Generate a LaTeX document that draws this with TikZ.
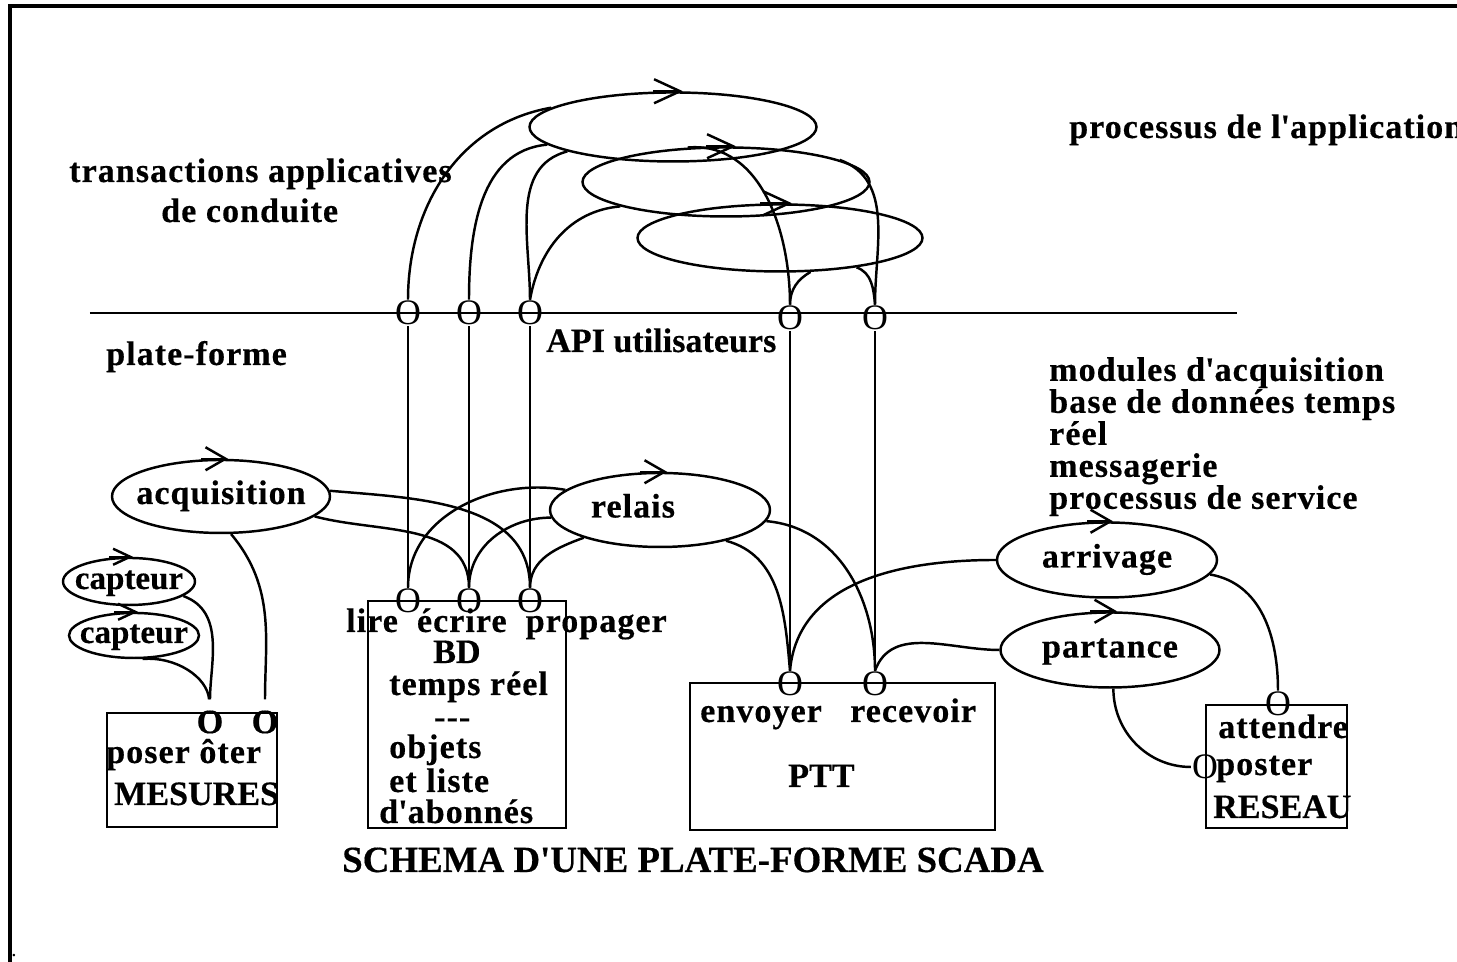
\documentclass[tikz,border=0pt]{standalone}
\usepackage{fontspec}
\setmainfont{Liberation Serif}
\newfontfamily\spacedfont{Liberation Serif Bold}[LetterSpace=3, FakeBold=0.4]
\newfontfamily\plainfont{Liberation Serif Bold}[FakeBold=0.4]
\usetikzlibrary{shapes.geometric,arrows.meta}
\setlength{\lineskiplimit}{-3pt}

\begin{document}
\begin{tikzpicture}[
  line width=0.7pt,
  lbl/.style={font=\spacedfont\fontsize{9.7}{9.1}\selectfont, inner sep=0pt},
  caplbl/.style={font=\plainfont\fontsize{9.7}{9.1}\selectfont, inner sep=0pt},
  proc/.style={ellipse, draw, inner sep=0pt, text height=0.22cm, text depth=0.07cm,
    font=\spacedfont\fontsize{9.7}{9.1}\selectfont},
  sensor/.style={proc, font=\plainfont\fontsize{9.4}{9.4}\selectfont},
  box/.style={draw, rectangle, line width=0.8pt, inner sep=0pt},
  port/.style={font=\fontsize{10.2}{10.2}\selectfont, inner sep=0pt},
  bigturn/.style={-{Straight Barb[length=2.6mm,width=2.4mm]}},
  turn/.style={-{Straight Barb[length=2mm,width=2.3mm]}},
  smallturn/.style={-{Straight Barb[length=1.7mm,width=1.6mm]}}
]
\useasboundingbox (0,0) rectangle (14.57,9.62);
% cadre
\draw[line width=0.95pt] (0.10,0) -- (0.10,9.56) -- (14.57,9.56);
\node[font=\fontsize{6}{6}\selectfont, inner sep=0pt] (pt) at (0.14,0.06) {.};

% limite plate-forme / application
\draw (0.90,6.49) -- (12.37,6.49);
\node[port] (a1) at (4.08,6.49) {O};
\node[port] (a2) at (4.69,6.49) {O};
\node[port] (a3) at (5.30,6.49) {O};
\node[port] (a4) at (7.90,6.44) {O};
\node[port] (a5) at (8.75,6.44) {O};

% processus de l'application
\node[proc, minimum width=2.87cm, minimum height=0.69cm] (e1) at (6.73,8.35) {};
\node[proc, minimum width=2.87cm, minimum height=0.69cm] (e2) at (7.26,7.80) {};
\node[proc, minimum width=2.85cm, minimum height=0.67cm] (e3) at (7.80,7.24) {};
\draw[bigturn] ([xshift=-2mm]e1.north) -- ([xshift=1mm]e1.north);
\draw[bigturn] ([xshift=-2mm]e2.north) -- ([xshift=1mm]e2.north);
\draw[bigturn] ([xshift=-2mm]e3.north) -- ([xshift=1.2mm]e3.north);

% textes
\node[lbl, anchor=base west] (trans) at (0.68,7.80) {transactions applicatives};
\node[lbl, anchor=base west] (cond) at (1.60,7.40) {de conduite};
\node[lbl, anchor=base west] (appl) at (10.68,8.24) {processus de l\textquotesingle application};
\node[lbl, anchor=base west] (plat) at (1.05,5.97) {plate-forme};
\node[caplbl, anchor=base west] (api) at (5.45,6.10) {API utilisateurs};
\node[lbl, anchor=north west, align=left] (serv) at (10.48,6.06)
  {modules d\textquotesingle acquisition\\base de données temps\\réel\\messagerie\\processus de service};
\node[font=\plainfont\fontsize{10.5}{12}\selectfont, inner sep=0pt, anchor=base] (titre)
  at (6.93,0.90) {SCHEMA D\textquotesingle UNE PLATE-FORME SCADA};

% processus de service
\node[proc, minimum width=2.18cm, minimum height=0.73cm] (acq) at (2.21,4.655) {\makebox[0pt]{acquisition}};
\node[sensor, minimum width=1.32cm, minimum height=0.47cm] (cap1) at (1.29,3.805) {\makebox[0pt]{capteur}};
\node[sensor, minimum width=1.30cm, minimum height=0.45cm] (cap2) at (1.34,3.265) {\makebox[0pt]{capteur}};
\node[proc, minimum width=2.20cm, minimum height=0.74cm] (relais) at (6.60,4.52) {\makebox[0pt]{\hspace*{-0.54cm}relais}};
\node[proc, minimum width=2.20cm, minimum height=0.75cm] (arriv) at (11.07,4.02) {\makebox[0pt]{arrivage}};
\node[proc, minimum width=2.19cm, minimum height=0.75cm] (part) at (11.10,3.12) {\makebox[0pt]{partance}};
\draw[turn] ([xshift=-2mm]acq.north) -- ([xshift=0.7mm]acq.north);
\draw[smallturn] ([xshift=-2mm]cap1.north) -- ([xshift=0.4mm]cap1.north);
\draw[smallturn] ([xshift=-2mm]cap2.north) -- ([xshift=0.4mm]cap2.north);
\draw[turn] ([xshift=-2mm]relais.north) -- ([xshift=0.7mm]relais.north);
\draw[turn] ([xshift=-2mm]arriv.north) -- ([xshift=0.6mm]arriv.north);
\draw[turn] ([xshift=-2mm]part.north) -- ([xshift=0.7mm]part.north);

% modules
\node[box, minimum width=1.70cm, minimum height=1.14cm] (mes) at (1.92,1.92) {};
\node[box, minimum width=1.98cm, minimum height=2.27cm] (bd) at (4.67,2.475) {};
\node[box, minimum width=3.05cm, minimum height=1.47cm] (ptt) at (8.425,2.055) {};
\node[box, minimum width=1.41cm, minimum height=1.23cm] (res) at (12.765,1.955) {};

\node[caplbl] (m1) at (2.10,2.40) {O};
\node[caplbl] (m2) at (2.65,2.40) {O};
\node[lbl, anchor=base west] (mes1) at (1.05,1.99) {poser ôter};
\node[caplbl, anchor=base west] (mes2) at (1.13,1.57) {MESURES};

\node[port] (b1) at (4.08,3.61) {O};
\node[port] (b2) at (4.69,3.61) {O};
\node[port] (b3) at (5.30,3.61) {O};
\node[lbl, anchor=base west] (bd1) at (3.45,3.30) {lire~~écrire~~propager};
\node[caplbl, anchor=base west] (bd2) at (4.32,2.99) {BD};
\node[lbl, anchor=base west] (bd3) at (3.88,2.67) {temps réel};
\node[lbl, anchor=base west] (bd4) at (4.33,2.34) {-{}-{}-};
\node[lbl, anchor=base west] (bd5) at (3.88,2.04) {objets};
\node[lbl, anchor=base west] (bd6) at (3.88,1.70) {et liste};
\node[lbl, anchor=base west] (bd7) at (3.78,1.39) {d\textquotesingle abonnés};

\node[port] (p1) at (7.90,2.78) {O};
\node[port] (p2) at (8.75,2.78) {O};
\node[lbl, anchor=base west] (ptt1) at (6.99,2.40) {envoyer};
\node[lbl, anchor=base west] (ptt2) at (8.49,2.40) {recevoir};
\node[caplbl, anchor=base west] (ptt3) at (7.87,1.75) {PTT};

\node[port] (r1) at (12.78,2.58) {O};
\node[port] (r2) at (12.05,1.95) {O};
\node[lbl, anchor=base west] (res1) at (12.17,2.24) {attendre};
\node[lbl, anchor=base west] (res2) at (12.15,1.87) {poster};
\node[caplbl, anchor=base west] (res3) at (12.12,1.44) {RESEAU};

% API utilisateurs
\draw (a1.north) to[out=90, in=190] (e1.171);
\draw (a2.north) to[out=90, in=185] (e1.188);
\draw (a3.north) to[out=90, in=195] (e1.193);
\draw (a3.north) to[out=80, in=185] (e2.193);
\draw (e2.138) to[out=5, in=90] (a4.north);
\draw (a4.north) to[out=90, in=210] (e3.312);
\draw (e2.11) to[out=-20, in=90] (a5.north);
\draw (a5.north) to[out=95, in=-20] (e3.339);
\draw (a1.south) -- (b1.north);
\draw (a2.south) -- (b2.north);
\draw (a3.south) -- (b3.north);
\draw (a4.south) -- (p1.north);
\draw (a5.south) -- (p2.north);

% liaisons internes
\draw[shorten >=1mm] (cap1.345) to[out=-20, in=90] (m1.north);
\draw[shorten >=1mm] (cap2.290) to[out=5, in=95] (m1.north);
\draw[shorten >=1mm] (acq.285) to[out=-50, in=90] (m2.north);
\draw (acq.3) to[out=-5, in=90] (b3.north);
\draw (acq.348) to[out=-15, in=90] (b2.north);
\draw (relais.168) to[out=170, in=90] (b1.north);
\draw (relais.184) to[out=180, in=90] (b2.north);
\draw (relais.200) to[out=200, in=90] (b3.north);
\draw (relais.354) to[out=-5, in=90] (p2.north);
\draw (relais.335) to[out=-15, in=95] (p1.north);
\draw (arriv.west) to[out=180, in=85] (p1.north);
\draw (part.west) to[out=180, in=70] (p2.north);
\draw (arriv.352) to[out=-10, in=90] (r1.north);
\draw (part.275) to[out=-90, in=180] (r2.west);
\end{tikzpicture}
\end{document}
